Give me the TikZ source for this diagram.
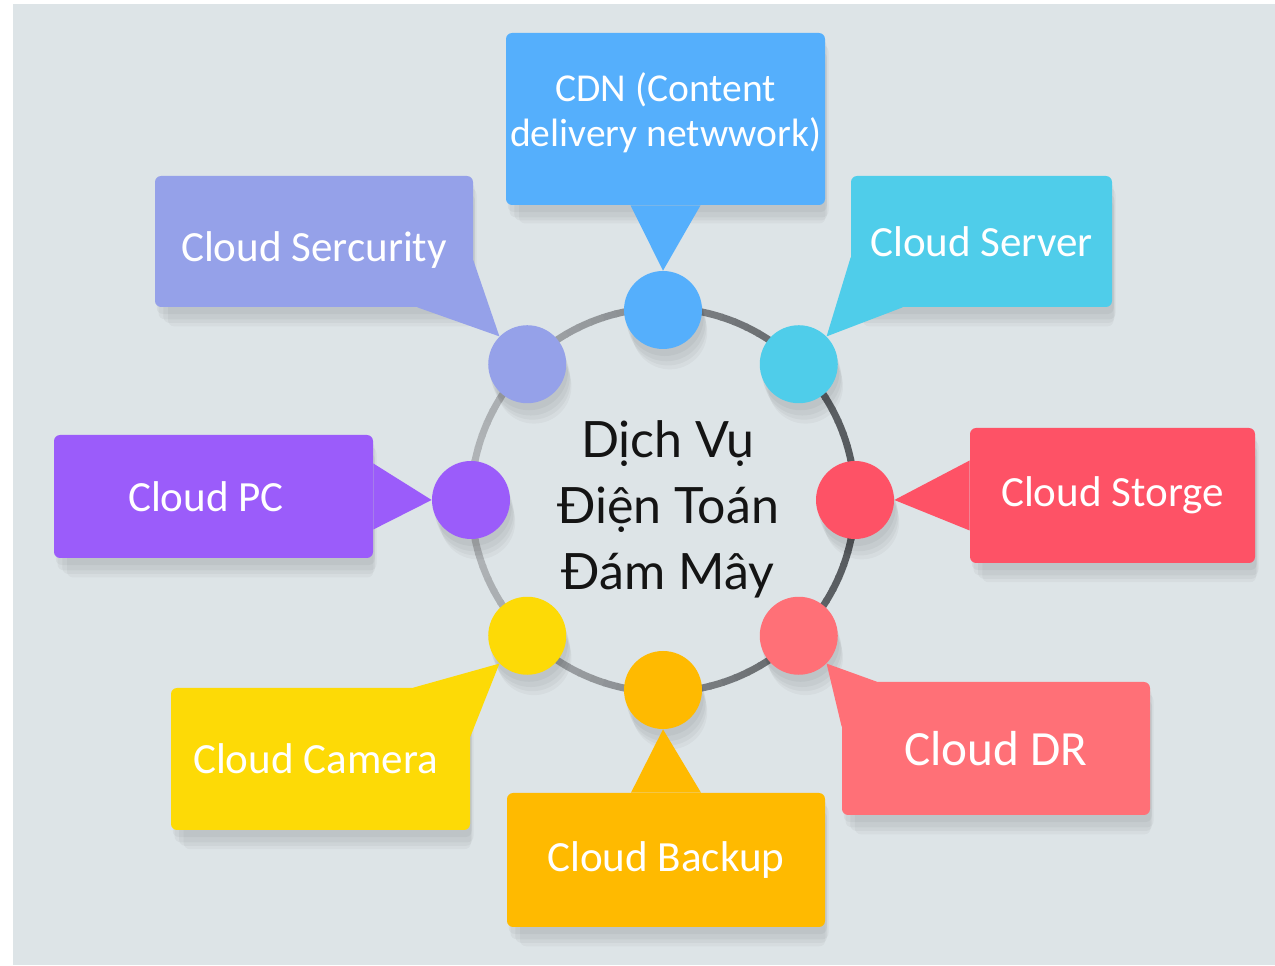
\documentclass[tikz,border=0pt]{standalone}
\usepackage{fontspec}
\setmainfont{Carlito}
\newfontfamily\titlefont{Lato}
\usetikzlibrary{calc,shadows}

\definecolor{bgcol}{HTML}{DDE4E7}
\definecolor{ringdark}{HTML}{55595D}
\definecolor{ringlight}{HTML}{B0B4B7}
\definecolor{cdncol}{HTML}{55AFFC}
\definecolor{srvcol}{HTML}{4FCDEA}
\definecolor{stocol}{HTML}{FE5266}
\definecolor{drcol}{HTML}{FF7077}
\definecolor{bakcol}{HTML}{FFBA00}
\definecolor{camcol}{HTML}{FDDA06}
\definecolor{pccol}{HTML}{9B5CFA}
\definecolor{seccol}{HTML}{95A1E9}

\tikzset{
    box/.style={rectangle, rounded corners=3.5pt, text=white, align=center,
        inner sep=0pt, font=\fontsize{24.5}{29}\selectfont},
    dot/.style={circle, minimum size=1.56cm, inner sep=0pt},
    softshadow/.style={
        general shadow={fill=black, opacity=0.035, shadow xshift=1pt, shadow yshift=-4pt},
        general shadow={fill=black, opacity=0.035, shadow xshift=2pt, shadow yshift=-7pt},
        general shadow={fill=black, opacity=0.035, shadow xshift=3pt, shadow yshift=-10pt, shadow scale=0.98},
        general shadow={fill=black, opacity=0.03, shadow xshift=4pt, shadow yshift=-13pt, shadow scale=0.96}},
    ringpart/.style={line width=0.14cm}
}

\begin{document}
\begin{tikzpicture}
    %%%%% BACKGROUND %%%%%
    \fill[white] (0, 0) rectangle (25.5, 19.32);
    \useasboundingbox (0, 0) rectangle (25.5, 19.32);
    \fill[bgcol] (0.26, 0.02) rectangle (25.5, 19.24);

    %%%%% RING %%%%%
    \coordinate (hub) at (13.26, 9.32);
    \foreach \a in {0,4,...,356}{
        \pgfmathtruncatemacro\mix{50+50*cos(\a+2)}
        \draw[ringpart, color=ringdark!\mix!ringlight] ($(hub)+(\a:3.84)$) arc (\a:\a+4.5:3.84);
    }

    \node[font=\titlefont\fontsize{28.5}{37.5}\selectfont, align=center, text=black!92] (title)
        at (13.36, 9.14) {Dịch Vụ\\Điện Toán\\Đám Mây};

    %%%%% BOXES %%%%%
    \node[box, softshadow, fill=cdncol, minimum width=6.38cm, minimum height=3.44cm,
        font=\fontsize{22.5}{25.5}\selectfont] (cdn) at (13.31, 16.94)
        {CDN (Content\\delivery netwwork)\\[-0.52cm]};
    \node[box, softshadow, fill=seccol, minimum width=6.36cm, minimum height=2.62cm,
        text height=0.95cm] (sec) at (6.28, 14.49) {Cloud Sercurity};
    \node[box, softshadow, fill=srvcol, minimum width=5.22cm, minimum height=2.62cm] (srv)
        at (19.63, 14.49) {Cloud Server};
    \node[box, softshadow, fill=pccol, minimum width=6.38cm, minimum height=2.46cm] (pc)
        at (4.27, 9.39) {Cloud PC\hspace{0.3cm}};
    \node[box, softshadow, fill=stocol, minimum width=5.70cm, minimum height=2.70cm] (sto)
        at (22.25, 9.41) {Cloud Storge};
    \node[box, softshadow, fill=camcol, minimum width=5.98cm, minimum height=2.84cm] (cam)
        at (6.41, 4.14) {Cloud Camera\hspace{0.2cm}};
    \node[box, softshadow, fill=drcol, minimum width=6.16cm, minimum height=2.66cm,
        font=\fontsize{28}{32}\selectfont] (dr) at (19.92, 4.35) {Cloud DR};
    \node[box, softshadow, fill=bakcol, minimum width=6.36cm, minimum height=2.68cm] (bak)
        at (13.32, 2.12) {Cloud Backup};

    %%%%% DOTS %%%%%
    \node[dot, softshadow, fill=cdncol] (cdndot) at ($(hub)+(90:3.80)$) {};
    \node[dot, softshadow, fill=srvcol] (srvdot) at ($(hub)+(45:3.84)$) {};
    \node[dot, softshadow, fill=stocol] (stodot) at ($(hub)+(0:3.84)$) {};
    \node[dot, softshadow, fill=drcol] (drdot) at ($(hub)+(-45:3.84)$) {};
    \node[dot, softshadow, fill=bakcol] (bakdot) at ($(hub)+(-90:3.80)$) {};
    \node[dot, softshadow, fill=camcol] (camdot) at ($(hub)+(-135:3.84)$) {};
    \node[dot, softshadow, fill=pccol] (pcdot) at ($(hub)+(180:3.84)$) {};
    \node[dot, softshadow, fill=seccol] (secdot) at ($(hub)+(135:3.84)$) {};

    %%%%% POINTERS %%%%%
    \fill[cdncol] ($(cdn.south)+(-0.7,0)$) -- (cdndot.north) -- ($(cdn.south)+(0.7,0)$) -- cycle;
    \fill[seccol] ($(sec.south east)+(-1.12,0)$) -- (secdot.north west) -- ($(sec.south east)+(0,0.94)$) -- cycle;
    \fill[srvcol] ($(srv.south west)+(0,1.0)$) -- (srvdot.north east) -- ($(srv.south west)+(1.04,0)$) -- cycle;
    \fill[pccol] ($(pc.east)+(0,0.66)$) -- (pcdot.west) -- ($(pc.east)+(0,-0.66)$) -- cycle;
    \fill[stocol] ($(sto.west)+(0,0.7)$) -- (stodot.east) -- ($(sto.west)+(0,-0.7)$) -- cycle;
    \fill[camcol] ($(cam.north east)+(-1.14,0)$) -- (camdot.south west) -- ($(cam.north east)+(0,-0.98)$) -- cycle;
    \fill[drcol] ($(dr.north west)+(0.7,0)$) -- (drdot.south east) -- ($(dr.north west)+(0,-0.9)$) -- cycle;
    \fill[bakcol] ($(bak.north)+(-0.7,0)$) -- (bakdot.south) -- ($(bak.north)+(0.7,0)$) -- cycle;
\end{tikzpicture}
\end{document}
